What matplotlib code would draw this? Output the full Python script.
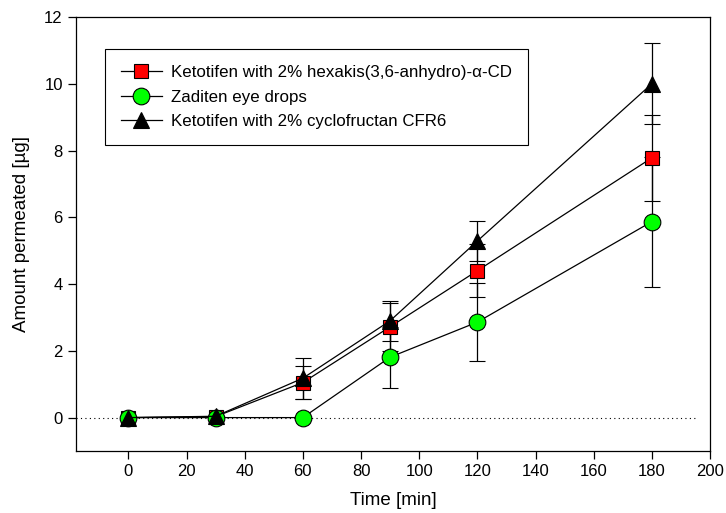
import numpy as np
import matplotlib
matplotlib.use('Agg')
import matplotlib.pyplot as plt

plt.rcParams['font.family'] = ['Liberation Sans', 'DejaVu Sans']

# sampling times [min]
time_min = [0, 30, 60, 90, 120, 180]

# amount permeated [ug] and SD for each formulation
hexakis_mean = [0.0, 0.03, 1.05, 2.72, 4.40, 7.78]
hexakis_sd = [0.0, 0.0, 0.50, 0.72, 0.80, 1.28]
zaditen_mean = [0.0, 0.0, 0.0, 1.81, 2.86, 5.87]
zaditen_sd = [0.0, 0.0, 0.0, 0.91, 1.16, 1.95]
cfr6_mean = [0.0, 0.04, 1.18, 2.90, 5.29, 10.0]
cfr6_sd = [0.0, 0.0, 0.62, 0.60, 0.60, 1.22]

labels = ['Ketotifen with 2% hexakis(3,6-anhydro)-\u03b1-CD',
          'Zaditen eye drops',
          'Ketotifen with 2% cyclofructan CFR6']

x_ticks = [0, 20, 40, 60, 80, 100, 120, 140, 160, 180, 200]
y_ticks = [0, 2, 4, 6, 8, 10, 12]


def plot_series(ax, y, err, marker, color, ms, label):
    cont = ax.errorbar(time_min, y, yerr=err, marker=marker, markersize=ms,
                       color='k', markerfacecolor=color, markeredgecolor='k',
                       markeredgewidth=0.8, linewidth=0.9, elinewidth=0.9,
                       capsize=6, capthick=0.9, label=label)
    # only line + marker goes to the legend
    return cont[0]


fig = plt.figure(figsize=(7.26, 5.13), dpi=100)
ax = fig.add_axes([0.1047, 0.1209, 0.8733, 0.846])

ax.axhline(0, xmin=0, xmax=0.98, color='k', linestyle=(0, (1, 3)), linewidth=0.8)

handles = [
    plot_series(ax, hexakis_mean, hexakis_sd, 's', '#ff0000', 10.5, labels[0]),
    plot_series(ax, zaditen_mean, zaditen_sd, 'o', '#00ff00', 12, labels[1]),
    plot_series(ax, cfr6_mean, cfr6_sd, '^', 'k', 11.5, labels[2]),
]

ax.set_xlim(-18, 200)
ax.set_ylim(-1, 12)
ax.set_xticks(x_ticks)
ax.set_yticks(y_ticks)
ax.tick_params(direction='out', length=5.5, width=0.9, labelsize=12, pad=4)
for sp in ax.spines.values():
    sp.set_linewidth(0.9)

ax.set_xlabel('Time [min]', fontsize=13.5, labelpad=9)
ax.set_ylabel('Amount permeated [\u00b5g]', fontsize=13.5, labelpad=10)

leg = ax.legend(handles, labels, loc='upper left', bbox_to_anchor=(0.0457, 0.926),
                borderaxespad=0, fontsize=12.2, borderpad=0.95,
                handlelength=2.4, handletextpad=0.55, labelspacing=0.55,
                fancybox=False, framealpha=1, edgecolor='k')
leg.get_frame().set_linewidth(0.8)

plt.savefig('out.png', dpi=100)
